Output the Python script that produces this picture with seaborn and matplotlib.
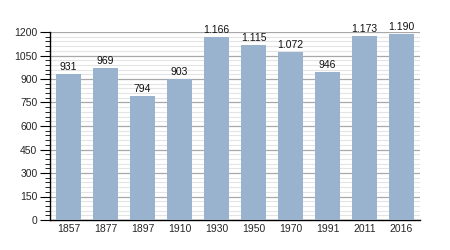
import matplotlib
matplotlib.use("Agg")
import matplotlib.pyplot as plt
import seaborn as sns
import pandas as pd
from matplotlib.ticker import MultipleLocator

years = ["1857", "1877", "1897", "1910", "1930", "1950", "1970", "1991", "2011", "2016"]
population = [931, 969, 794, 903, 1166, 1115, 1072, 946, 1173, 1190]
labels = ["931", "969", "794", "903", "1.166", "1.115", "1.072", "946", "1.173", "1.190"]

df = pd.DataFrame({"year": years, "pop": population})

sns.set_theme(style="white")
plt.rcParams['font.family'] = ['Liberation Sans', 'DejaVu Sans']

fig = plt.figure(figsize=(4.5, 2.5), dpi=100)
ax = fig.add_axes([50/450, 1 - 220/250, 370/450, 188/250])

sns.barplot(data=df, x="year", y="pop", color="#99b3ce", saturation=1, width=0.68,
            linewidth=0, edgecolor="none", ax=ax, zorder=3)

ax.set_ylim(0, 1200)
ax.set_xlim(-0.5, 9.5)
ax.yaxis.set_major_locator(MultipleLocator(150))
ax.yaxis.set_minor_locator(MultipleLocator(30))
ax.grid(which="major", axis="y", color="#a8a8a8", linewidth=0.9, zorder=0)
ax.grid(which="minor", axis="y", color="#e4e4e4", linewidth=0.8, zorder=0)
ax.set_axisbelow(True)

for s in ["top", "right"]:
    ax.spines[s].set_visible(False)
for s in ["left", "bottom"]:
    ax.spines[s].set_color("black")
    ax.spines[s].set_linewidth(1.0)

ax.tick_params(axis="y", which="major", length=7, width=0.8, color="black", labelsize=7.5, pad=2, left=True)
ax.tick_params(axis="y", which="minor", length=3.5, width=0.6, color="black", left=True)
ax.tick_params(axis="x", length=0, labelsize=7.5, pad=3)
ax.set_xlabel("")
ax.set_ylabel("")

for i, (v, t) in enumerate(zip(population, labels)):
    ax.text(i, v + 12, t, ha="center", va="bottom", fontsize=7.5, color="#111111", clip_on=False)

fig.savefig("out.png", dpi=100)
